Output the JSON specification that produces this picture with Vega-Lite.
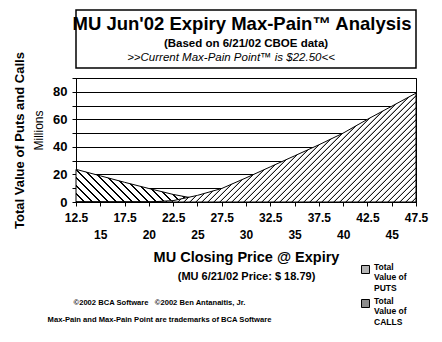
{
  "$schema": "https://vega.github.io/schema/vega-lite/v6.json",
  "background": "white",
  "padding": {"left": 13, "top": 9, "right": 4, "bottom": 4},
  "bounds": "flush",
  "spacing": 10,
  "config": {"font": "Liberation Sans", "view": {"stroke": "black"}},
  "vconcat": [
    {
      "width": 340,
      "height": 58,
      "view": {"stroke": "black", "strokeWidth": 1.5},
      "layer": [
        {
          "data": {"values": [{"t": "MU Jun'02 Expiry Max-Pain™ Analysis"}]},
          "mark": {"type": "text", "fontSize": 18.5, "fontWeight": "bold", "baseline": "alphabetic", "align": "center", "dy": -9.5, "dx": -4, "color": "black"},
          "encoding": {"text": {"field": "t"}}
        },
        {
          "data": {"values": [{"t": "(Based on 6/21/02 CBOE data)"}]},
          "mark": {"type": "text", "fontSize": 11.5, "fontWeight": "bold", "baseline": "alphabetic", "align": "center", "dy": 7.5, "dx": 0, "color": "black"},
          "encoding": {"text": {"field": "t"}}
        },
        {
          "data": {"values": [{"t": ">>Current Max-Pain Point™ is $22.50<<"}]},
          "mark": {"type": "text", "fontSize": 11.5, "fontStyle": "italic", "baseline": "alphabetic", "align": "center", "dy": 22, "dx": -15, "color": "black"},
          "encoding": {"text": {"field": "t"}}
        }
      ]
    },
    {
      "width": 340,
      "height": 124,
      "view": {"stroke": "black", "strokeWidth": 1},
      "data": {"values": [
        {"price": 12.5, "series": "PUTS", "value": 23.7},
        {"price": 15, "series": "PUTS", "value": 19},
        {"price": 17.5, "series": "PUTS", "value": 14.3},
        {"price": 20, "series": "PUTS", "value": 9.8},
        {"price": 22.5, "series": "PUTS", "value": 5.5},
        {"price": 25, "series": "PUTS", "value": 2.2},
        {"price": 27.5, "series": "PUTS", "value": 0},
        {"price": 12.5, "series": "CALLS", "value": 0},
        {"price": 15, "series": "CALLS", "value": 0},
        {"price": 17.5, "series": "CALLS", "value": 0},
        {"price": 20, "series": "CALLS", "value": 0},
        {"price": 22.5, "series": "CALLS", "value": 1},
        {"price": 25, "series": "CALLS", "value": 4.8},
        {"price": 27.5, "series": "CALLS", "value": 9.8},
        {"price": 30, "series": "CALLS", "value": 17.5},
        {"price": 32.5, "series": "CALLS", "value": 25.5},
        {"price": 35, "series": "CALLS", "value": 33.5},
        {"price": 37.5, "series": "CALLS", "value": 41.5},
        {"price": 40, "series": "CALLS", "value": 50},
        {"price": 42.5, "series": "CALLS", "value": 60},
        {"price": 45, "series": "CALLS", "value": 69.5},
        {"price": 47.5, "series": "CALLS", "value": 79}
      ]},
      "resolve": {"axis": {"x": "independent", "y": "independent"}},
      "layer": [
        {
          "transform": [{"filter": "datum.series == 'PUTS'"}],
          "mark": {
            "type": "area",
            "stroke": "black",
            "strokeWidth": 1,
            "fill": {
              "gradient": "linear",
              "x1": 0, "y1": 1, "x2": 1.307, "y2": 0.7072,
              "stops": [
                {"offset": 0, "color": "#000"}, {"offset": 0.005, "color": "#000"}, {"offset": 0.008, "color": "#fff"}, {"offset": 0.039, "color": "#fff"},
                {"offset": 0.04, "color": "#000"}, {"offset": 0.045, "color": "#000"}, {"offset": 0.048, "color": "#fff"}, {"offset": 0.079, "color": "#fff"},
                {"offset": 0.08, "color": "#000"}, {"offset": 0.085, "color": "#000"}, {"offset": 0.088, "color": "#fff"}, {"offset": 0.119, "color": "#fff"},
                {"offset": 0.12, "color": "#000"}, {"offset": 0.125, "color": "#000"}, {"offset": 0.128, "color": "#fff"}, {"offset": 0.159, "color": "#fff"},
                {"offset": 0.16, "color": "#000"}, {"offset": 0.165, "color": "#000"}, {"offset": 0.168, "color": "#fff"}, {"offset": 0.199, "color": "#fff"},
                {"offset": 0.2, "color": "#000"}, {"offset": 0.205, "color": "#000"}, {"offset": 0.208, "color": "#fff"}, {"offset": 0.239, "color": "#fff"},
                {"offset": 0.24, "color": "#000"}, {"offset": 0.245, "color": "#000"}, {"offset": 0.248, "color": "#fff"}, {"offset": 0.279, "color": "#fff"},
                {"offset": 0.28, "color": "#000"}, {"offset": 0.285, "color": "#000"}, {"offset": 0.288, "color": "#fff"}, {"offset": 0.319, "color": "#fff"},
                {"offset": 0.32, "color": "#000"}, {"offset": 0.325, "color": "#000"}, {"offset": 0.328, "color": "#fff"}, {"offset": 0.359, "color": "#fff"},
                {"offset": 0.36, "color": "#000"}, {"offset": 0.365, "color": "#000"}, {"offset": 0.368, "color": "#fff"}, {"offset": 0.399, "color": "#fff"},
                {"offset": 0.4, "color": "#000"}, {"offset": 0.405, "color": "#000"}, {"offset": 0.408, "color": "#fff"}, {"offset": 0.439, "color": "#fff"},
                {"offset": 0.44, "color": "#000"}, {"offset": 0.445, "color": "#000"}, {"offset": 0.448, "color": "#fff"}, {"offset": 0.479, "color": "#fff"},
                {"offset": 0.48, "color": "#000"}, {"offset": 0.485, "color": "#000"}, {"offset": 0.488, "color": "#fff"}, {"offset": 0.519, "color": "#fff"},
                {"offset": 0.52, "color": "#000"}, {"offset": 0.525, "color": "#000"}, {"offset": 0.528, "color": "#fff"}, {"offset": 0.559, "color": "#fff"},
                {"offset": 0.56, "color": "#000"}, {"offset": 0.565, "color": "#000"}, {"offset": 0.568, "color": "#fff"}, {"offset": 0.599, "color": "#fff"},
                {"offset": 0.6, "color": "#000"}, {"offset": 0.605, "color": "#000"}, {"offset": 0.608, "color": "#fff"}, {"offset": 0.639, "color": "#fff"},
                {"offset": 0.64, "color": "#000"}, {"offset": 0.645, "color": "#000"}, {"offset": 0.648, "color": "#fff"}, {"offset": 0.679, "color": "#fff"},
                {"offset": 0.68, "color": "#000"}, {"offset": 0.685, "color": "#000"}, {"offset": 0.688, "color": "#fff"}, {"offset": 0.719, "color": "#fff"},
                {"offset": 0.72, "color": "#000"}, {"offset": 0.725, "color": "#000"}, {"offset": 0.728, "color": "#fff"}, {"offset": 0.759, "color": "#fff"},
                {"offset": 0.76, "color": "#000"}, {"offset": 0.765, "color": "#000"}, {"offset": 0.768, "color": "#fff"}, {"offset": 0.799, "color": "#fff"},
                {"offset": 0.8, "color": "#000"}, {"offset": 0.805, "color": "#000"}, {"offset": 0.808, "color": "#fff"}, {"offset": 0.839, "color": "#fff"},
                {"offset": 0.84, "color": "#000"}, {"offset": 0.845, "color": "#000"}, {"offset": 0.848, "color": "#fff"}, {"offset": 0.879, "color": "#fff"},
                {"offset": 0.88, "color": "#000"}, {"offset": 0.885, "color": "#000"}, {"offset": 0.888, "color": "#fff"}, {"offset": 0.919, "color": "#fff"}
              ]
            }
          },
          "encoding": {
            "x": {
              "field": "price", "type": "quantitative",
              "scale": {"domain": [12.5, 47.5], "nice": false, "zero": false},
              "axis": {
                "orient": "bottom",
                "values": [12.5, 15, 17.5, 20, 22.5, 25, 27.5, 30, 32.5, 35, 37.5, 40, 42.5, 45, 47.5],
                "format": ".1~f",
                "labelFontSize": 12, "labelFontWeight": "bold", "labelColor": "black",
                "labelPadding": {"condition": {"test": "datum.value % 5 == 0", "value": 23}, "value": 6},
                "labelOverlap": false, "labelFlush": false, "labelBound": false,
                "tickSize": 4, "tickColor": "black", "domainColor": "black", "grid": false,
                "title": "MU Closing Price @ Expiry",
                "titleFontSize": 14.5, "titleFontWeight": "bold", "titleColor": "black",
                "titleBaseline": "top", "titleY": 48
              }
            },
            "y": {
              "field": "value", "type": "quantitative",
              "scale": {"domain": [0, 90], "nice": false},
              "axis": {
                "orient": "left",
                "values": [0, 10, 20, 30, 40, 50, 60, 70, 80, 90],
                "labelExpr": "datum.value % 20 == 0 ? datum.label : ''",
                "labelFontSize": 13, "labelFontWeight": "bold", "labelColor": "black", "labelPadding": 5,
                "tickSize": 4, "tickColor": "black", "domainColor": "black",
                "grid": true, "gridColor": "black", "gridOpacity": 1, "gridWidth": 1,
                "title": "Total Value of Puts and Calls",
                "titleFontSize": 13, "titleFontWeight": "bold", "titleColor": "black", "titlePadding": 26
              }
            }
          }
        },
        {
          "transform": [{"filter": "datum.series == 'CALLS'"}],
          "mark": {
            "type": "area",
            "stroke": "black",
            "strokeWidth": 1,
            "fill": {
              "gradient": "linear",
              "x1": 0, "y1": 0, "x2": 1.2806, "y2": 0.4098,
              "stops": [
                {"offset": 0, "color": "#000"}, {"offset": 0.0015, "color": "#000"}, {"offset": 0.0035, "color": "#fff"}, {"offset": 0.012, "color": "#fff"},
                {"offset": 0.0125, "color": "#000"}, {"offset": 0.014, "color": "#000"}, {"offset": 0.016, "color": "#fff"}, {"offset": 0.0245, "color": "#fff"},
                {"offset": 0.025, "color": "#000"}, {"offset": 0.0265, "color": "#000"}, {"offset": 0.0285, "color": "#fff"}, {"offset": 0.037, "color": "#fff"},
                {"offset": 0.0375, "color": "#000"}, {"offset": 0.039, "color": "#000"}, {"offset": 0.041, "color": "#fff"}, {"offset": 0.0495, "color": "#fff"},
                {"offset": 0.05, "color": "#000"}, {"offset": 0.0515, "color": "#000"}, {"offset": 0.0535, "color": "#fff"}, {"offset": 0.062, "color": "#fff"},
                {"offset": 0.0625, "color": "#000"}, {"offset": 0.064, "color": "#000"}, {"offset": 0.066, "color": "#fff"}, {"offset": 0.0745, "color": "#fff"},
                {"offset": 0.075, "color": "#000"}, {"offset": 0.0765, "color": "#000"}, {"offset": 0.0785, "color": "#fff"}, {"offset": 0.087, "color": "#fff"},
                {"offset": 0.0875, "color": "#000"}, {"offset": 0.089, "color": "#000"}, {"offset": 0.091, "color": "#fff"}, {"offset": 0.0995, "color": "#fff"},
                {"offset": 0.1, "color": "#000"}, {"offset": 0.1015, "color": "#000"}, {"offset": 0.1035, "color": "#fff"}, {"offset": 0.112, "color": "#fff"},
                {"offset": 0.1125, "color": "#000"}, {"offset": 0.114, "color": "#000"}, {"offset": 0.116, "color": "#fff"}, {"offset": 0.1245, "color": "#fff"},
                {"offset": 0.125, "color": "#000"}, {"offset": 0.1265, "color": "#000"}, {"offset": 0.1285, "color": "#fff"}, {"offset": 0.137, "color": "#fff"},
                {"offset": 0.1375, "color": "#000"}, {"offset": 0.139, "color": "#000"}, {"offset": 0.141, "color": "#fff"}, {"offset": 0.1495, "color": "#fff"},
                {"offset": 0.15, "color": "#000"}, {"offset": 0.1515, "color": "#000"}, {"offset": 0.1535, "color": "#fff"}, {"offset": 0.162, "color": "#fff"},
                {"offset": 0.1625, "color": "#000"}, {"offset": 0.164, "color": "#000"}, {"offset": 0.166, "color": "#fff"}, {"offset": 0.1745, "color": "#fff"},
                {"offset": 0.175, "color": "#000"}, {"offset": 0.1765, "color": "#000"}, {"offset": 0.1785, "color": "#fff"}, {"offset": 0.187, "color": "#fff"},
                {"offset": 0.1875, "color": "#000"}, {"offset": 0.189, "color": "#000"}, {"offset": 0.191, "color": "#fff"}, {"offset": 0.1995, "color": "#fff"},
                {"offset": 0.2, "color": "#000"}, {"offset": 0.2015, "color": "#000"}, {"offset": 0.2035, "color": "#fff"}, {"offset": 0.212, "color": "#fff"},
                {"offset": 0.2125, "color": "#000"}, {"offset": 0.214, "color": "#000"}, {"offset": 0.216, "color": "#fff"}, {"offset": 0.2245, "color": "#fff"},
                {"offset": 0.225, "color": "#000"}, {"offset": 0.2265, "color": "#000"}, {"offset": 0.2285, "color": "#fff"}, {"offset": 0.237, "color": "#fff"},
                {"offset": 0.2375, "color": "#000"}, {"offset": 0.239, "color": "#000"}, {"offset": 0.241, "color": "#fff"}, {"offset": 0.2495, "color": "#fff"},
                {"offset": 0.25, "color": "#000"}, {"offset": 0.2515, "color": "#000"}, {"offset": 0.2535, "color": "#fff"}, {"offset": 0.262, "color": "#fff"},
                {"offset": 0.2625, "color": "#000"}, {"offset": 0.264, "color": "#000"}, {"offset": 0.266, "color": "#fff"}, {"offset": 0.2745, "color": "#fff"},
                {"offset": 0.275, "color": "#000"}, {"offset": 0.2765, "color": "#000"}, {"offset": 0.2785, "color": "#fff"}, {"offset": 0.287, "color": "#fff"},
                {"offset": 0.2875, "color": "#000"}, {"offset": 0.289, "color": "#000"}, {"offset": 0.291, "color": "#fff"}, {"offset": 0.2995, "color": "#fff"},
                {"offset": 0.3, "color": "#000"}, {"offset": 0.3015, "color": "#000"}, {"offset": 0.3035, "color": "#fff"}, {"offset": 0.312, "color": "#fff"},
                {"offset": 0.3125, "color": "#000"}, {"offset": 0.314, "color": "#000"}, {"offset": 0.316, "color": "#fff"}, {"offset": 0.3245, "color": "#fff"},
                {"offset": 0.325, "color": "#000"}, {"offset": 0.3265, "color": "#000"}, {"offset": 0.3285, "color": "#fff"}, {"offset": 0.337, "color": "#fff"},
                {"offset": 0.3375, "color": "#000"}, {"offset": 0.339, "color": "#000"}, {"offset": 0.341, "color": "#fff"}, {"offset": 0.3495, "color": "#fff"},
                {"offset": 0.35, "color": "#000"}, {"offset": 0.3515, "color": "#000"}, {"offset": 0.3535, "color": "#fff"}, {"offset": 0.362, "color": "#fff"},
                {"offset": 0.3625, "color": "#000"}, {"offset": 0.364, "color": "#000"}, {"offset": 0.366, "color": "#fff"}, {"offset": 0.3745, "color": "#fff"},
                {"offset": 0.375, "color": "#000"}, {"offset": 0.3765, "color": "#000"}, {"offset": 0.3785, "color": "#fff"}, {"offset": 0.387, "color": "#fff"},
                {"offset": 0.3875, "color": "#000"}, {"offset": 0.389, "color": "#000"}, {"offset": 0.391, "color": "#fff"}, {"offset": 0.3995, "color": "#fff"},
                {"offset": 0.4, "color": "#000"}, {"offset": 0.4015, "color": "#000"}, {"offset": 0.4035, "color": "#fff"}, {"offset": 0.412, "color": "#fff"},
                {"offset": 0.4125, "color": "#000"}, {"offset": 0.414, "color": "#000"}, {"offset": 0.416, "color": "#fff"}, {"offset": 0.4245, "color": "#fff"},
                {"offset": 0.425, "color": "#000"}, {"offset": 0.4265, "color": "#000"}, {"offset": 0.4285, "color": "#fff"}, {"offset": 0.437, "color": "#fff"},
                {"offset": 0.4375, "color": "#000"}, {"offset": 0.439, "color": "#000"}, {"offset": 0.441, "color": "#fff"}, {"offset": 0.4495, "color": "#fff"},
                {"offset": 0.45, "color": "#000"}, {"offset": 0.4515, "color": "#000"}, {"offset": 0.4535, "color": "#fff"}, {"offset": 0.462, "color": "#fff"},
                {"offset": 0.4625, "color": "#000"}, {"offset": 0.464, "color": "#000"}, {"offset": 0.466, "color": "#fff"}, {"offset": 0.4745, "color": "#fff"},
                {"offset": 0.475, "color": "#000"}, {"offset": 0.4765, "color": "#000"}, {"offset": 0.4785, "color": "#fff"}, {"offset": 0.487, "color": "#fff"},
                {"offset": 0.4875, "color": "#000"}, {"offset": 0.489, "color": "#000"}, {"offset": 0.491, "color": "#fff"}, {"offset": 0.4995, "color": "#fff"},
                {"offset": 0.5, "color": "#000"}, {"offset": 0.5015, "color": "#000"}, {"offset": 0.5035, "color": "#fff"}, {"offset": 0.512, "color": "#fff"},
                {"offset": 0.5125, "color": "#000"}, {"offset": 0.514, "color": "#000"}, {"offset": 0.516, "color": "#fff"}, {"offset": 0.5245, "color": "#fff"},
                {"offset": 0.525, "color": "#000"}, {"offset": 0.5265, "color": "#000"}, {"offset": 0.5285, "color": "#fff"}, {"offset": 0.537, "color": "#fff"},
                {"offset": 0.5375, "color": "#000"}, {"offset": 0.539, "color": "#000"}, {"offset": 0.541, "color": "#fff"}, {"offset": 0.5495, "color": "#fff"},
                {"offset": 0.55, "color": "#000"}, {"offset": 0.5515, "color": "#000"}, {"offset": 0.5535, "color": "#fff"}, {"offset": 0.562, "color": "#fff"},
                {"offset": 0.5625, "color": "#000"}, {"offset": 0.564, "color": "#000"}, {"offset": 0.566, "color": "#fff"}, {"offset": 0.5745, "color": "#fff"},
                {"offset": 0.575, "color": "#000"}, {"offset": 0.5765, "color": "#000"}, {"offset": 0.5785, "color": "#fff"}, {"offset": 0.587, "color": "#fff"},
                {"offset": 0.5875, "color": "#000"}, {"offset": 0.589, "color": "#000"}, {"offset": 0.591, "color": "#fff"}, {"offset": 0.5995, "color": "#fff"},
                {"offset": 0.6, "color": "#000"}, {"offset": 0.6015, "color": "#000"}, {"offset": 0.6035, "color": "#fff"}, {"offset": 0.612, "color": "#fff"},
                {"offset": 0.6125, "color": "#000"}, {"offset": 0.614, "color": "#000"}, {"offset": 0.616, "color": "#fff"}, {"offset": 0.6245, "color": "#fff"},
                {"offset": 0.625, "color": "#000"}, {"offset": 0.6265, "color": "#000"}, {"offset": 0.6285, "color": "#fff"}, {"offset": 0.637, "color": "#fff"},
                {"offset": 0.6375, "color": "#000"}, {"offset": 0.639, "color": "#000"}, {"offset": 0.641, "color": "#fff"}, {"offset": 0.6495, "color": "#fff"},
                {"offset": 0.65, "color": "#000"}, {"offset": 0.6515, "color": "#000"}, {"offset": 0.6535, "color": "#fff"}, {"offset": 0.662, "color": "#fff"},
                {"offset": 0.6625, "color": "#000"}, {"offset": 0.664, "color": "#000"}, {"offset": 0.666, "color": "#fff"}, {"offset": 0.6745, "color": "#fff"},
                {"offset": 0.675, "color": "#000"}, {"offset": 0.6765, "color": "#000"}, {"offset": 0.6785, "color": "#fff"}, {"offset": 0.687, "color": "#fff"},
                {"offset": 0.6875, "color": "#000"}, {"offset": 0.689, "color": "#000"}, {"offset": 0.691, "color": "#fff"}, {"offset": 0.6995, "color": "#fff"},
                {"offset": 0.7, "color": "#000"}, {"offset": 0.7015, "color": "#000"}, {"offset": 0.7035, "color": "#fff"}, {"offset": 0.712, "color": "#fff"},
                {"offset": 0.7125, "color": "#000"}, {"offset": 0.714, "color": "#000"}, {"offset": 0.716, "color": "#fff"}, {"offset": 0.7245, "color": "#fff"},
                {"offset": 0.725, "color": "#000"}, {"offset": 0.7265, "color": "#000"}, {"offset": 0.7285, "color": "#fff"}, {"offset": 0.737, "color": "#fff"},
                {"offset": 0.7375, "color": "#000"}, {"offset": 0.739, "color": "#000"}, {"offset": 0.741, "color": "#fff"}, {"offset": 0.7495, "color": "#fff"},
                {"offset": 0.75, "color": "#000"}, {"offset": 0.7515, "color": "#000"}, {"offset": 0.7535, "color": "#fff"}, {"offset": 0.762, "color": "#fff"},
                {"offset": 0.7625, "color": "#000"}, {"offset": 0.764, "color": "#000"}, {"offset": 0.766, "color": "#fff"}, {"offset": 0.7745, "color": "#fff"},
                {"offset": 0.775, "color": "#000"}, {"offset": 0.7765, "color": "#000"}, {"offset": 0.7785, "color": "#fff"}, {"offset": 0.787, "color": "#fff"},
                {"offset": 0.7875, "color": "#000"}, {"offset": 0.789, "color": "#000"}, {"offset": 0.791, "color": "#fff"}, {"offset": 0.7995, "color": "#fff"},
                {"offset": 0.8, "color": "#000"}, {"offset": 0.8015, "color": "#000"}, {"offset": 0.8035, "color": "#fff"}, {"offset": 0.812, "color": "#fff"},
                {"offset": 0.8125, "color": "#000"}, {"offset": 0.814, "color": "#000"}, {"offset": 0.816, "color": "#fff"}, {"offset": 0.8245, "color": "#fff"},
                {"offset": 0.825, "color": "#000"}, {"offset": 0.8265, "color": "#000"}, {"offset": 0.8285, "color": "#fff"}, {"offset": 0.837, "color": "#fff"},
                {"offset": 0.8375, "color": "#000"}, {"offset": 0.839, "color": "#000"}, {"offset": 0.841, "color": "#fff"}, {"offset": 0.8495, "color": "#fff"},
                {"offset": 0.85, "color": "#000"}, {"offset": 0.8515, "color": "#000"}, {"offset": 0.8535, "color": "#fff"}, {"offset": 0.862, "color": "#fff"},
                {"offset": 0.8625, "color": "#000"}, {"offset": 0.864, "color": "#000"}, {"offset": 0.866, "color": "#fff"}, {"offset": 0.8745, "color": "#fff"},
                {"offset": 0.875, "color": "#000"}, {"offset": 0.8765, "color": "#000"}, {"offset": 0.8785, "color": "#fff"}, {"offset": 0.887, "color": "#fff"},
                {"offset": 0.8875, "color": "#000"}, {"offset": 0.889, "color": "#000"}, {"offset": 0.891, "color": "#fff"}, {"offset": 0.8995, "color": "#fff"},
                {"offset": 0.9, "color": "#000"}, {"offset": 0.9015, "color": "#000"}, {"offset": 0.9035, "color": "#fff"}, {"offset": 0.912, "color": "#fff"},
                {"offset": 0.9125, "color": "#000"}, {"offset": 0.914, "color": "#000"}, {"offset": 0.916, "color": "#fff"}, {"offset": 0.9245, "color": "#fff"},
                {"offset": 0.925, "color": "#000"}, {"offset": 0.9265, "color": "#000"}, {"offset": 0.9285, "color": "#fff"}, {"offset": 0.937, "color": "#fff"},
                {"offset": 0.9375, "color": "#000"}, {"offset": 0.939, "color": "#000"}, {"offset": 0.941, "color": "#fff"}, {"offset": 0.9495, "color": "#fff"}
              ]
            }
          },
          "encoding": {
            "x": {
              "field": "price", "type": "quantitative",
              "scale": {"domain": [12.5, 47.5], "nice": false, "zero": false},
              "axis": {
                "orient": "bottom", "labels": false, "ticks": false, "domain": false, "grid": false,
                "title": "(MU 6/21/02 Price: $ 18.79)",
                "titleFontSize": 11, "titleFontWeight": "bold", "titleColor": "black",
                "titleBaseline": "top", "titleY": 68
              }
            },
            "y": {
              "field": "value", "type": "quantitative",
              "scale": {"domain": [0, 90], "nice": false},
              "axis": {
                "orient": "left", "labels": false, "ticks": false, "domain": false, "grid": false,
                "title": "Millions",
                "titleFontSize": 12, "titleFontWeight": "normal", "titleColor": "black",
                "titleX": -31, "titleY": 52
              }
            }
          }
        },
        {
          "transform": [{"filter": "datum.value < 0"}],
          "mark": {"type": "square", "stroke": "black", "strokeWidth": 1, "opacity": 1},
          "encoding": {
            "x": {
              "field": "price", "type": "quantitative",
              "scale": {"domain": [12.5, 47.5], "nice": false, "zero": false},
              "axis": {
                "orient": "bottom", "labels": false, "ticks": false, "domain": false, "grid": false,
                "title": ["©2002 BCA Software\u00a0\u00a0\u00a0©2002 Ben Antanaitis, Jr.", "Max-Pain and Max-Pain Point are trademarks of BCA Software"],
                "titleFontSize": 7.6, "titleFontWeight": "bold", "titleColor": "black",
                "titleBaseline": "top", "titleAlign": "center", "titleLineHeight": 17,
                "titleX": 83, "titleY": 96
              }
            },
            "y": {"field": "value", "type": "quantitative", "scale": {"domain": [0, 90], "nice": false}, "axis": null},
            "fill": {
              "field": "series", "type": "nominal",
              "scale": {"domain": ["PUTS", "CALLS"], "range": ["#b4b4b4", "#8c8c8c"]},
              "legend": {
                "orient": "none", "legendX": 285, "legendY": 255, "title": null,
                "symbolType": "square", "symbolSize": 64,
                "symbolStrokeColor": "black", "symbolStrokeWidth": 1,
                "labelFontSize": 8.5, "labelFontWeight": "bold", "labelColor": "black",
                "labelBaseline": "alphabetic", "labelOffset": 4, "rowPadding": 4,
                "labelExpr": "datum.label == 'PUTS' ? ['Total', 'Value of', 'PUTS'] : ['Total', 'Value of', 'CALLS']"
              }
            }
          }
        }
      ]
    }
  ]
}
